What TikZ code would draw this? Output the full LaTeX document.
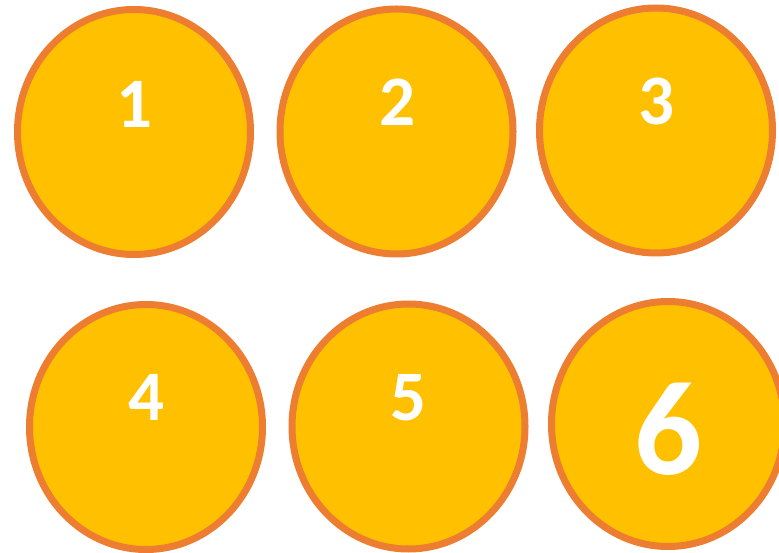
\documentclass[tikz,border=0pt]{standalone}
\usepackage{fontspec}
\newfontfamily\numfont{Carlito}
\usetikzlibrary{shapes.geometric}
\definecolor{discfill}{HTML}{FFC000}
\definecolor{discline}{HTML}{ED7D31}
\tikzset{
  disc/.style={ellipse,draw=discline,fill=discfill,line width=7pt,
    minimum width=233pt,minimum height=245pt,inner sep=0pt},
  num/.style={text=white,inner sep=0pt,font=\numfont\bfseries\fontsize{71}{71}\selectfont},
  bignum/.style={num,font=\numfont\bfseries\fontsize{134}{134}\selectfont}
}
\begin{document}
\begin{tikzpicture}[x=1pt,y=-1pt]
\useasboundingbox (0,0) rectangle (779,553);
\node[disc] (c1) at (134,132) {};
\node[disc] (c2) at (396.5,131.5) {};
\node[disc] (c3) at (656,130.5) {};
\node[disc] (c4) at (146,427) {};
\node[disc] (c5) at (408.5,426.5) {};
\node[disc] (c6) at (668,424) {};
\node[num] (n1) at (134,104.5) {1};
\node[num] (n2) at (397,102) {2};
\node[num] (n3) at (656,101) {3};
\node[num] (n4) at (146,397.5) {4};
\node[num] (n5) at (408,398) {5};
\node[bignum] (n6) at (668,429) {6};
\end{tikzpicture}
\end{document}
